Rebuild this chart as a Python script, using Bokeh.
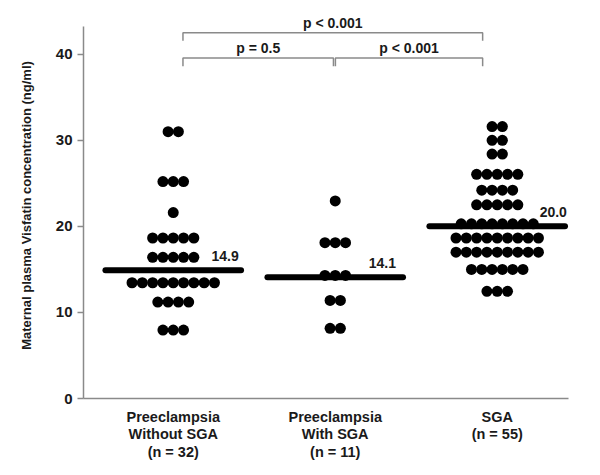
import numpy as np
from bokeh.plotting import figure
from bokeh.models import FixedTicker, Range1d
from bokeh.core.properties import value
from bokeh.embed import file_html
from bokeh.resources import INLINE

# ---------------- data ----------------
categories = ["Preeclampsia\nWithout SGA\n(n = 32)",
              "Preeclampsia\nWith SGA\n(n = 11)",
              "SGA\n(n = 55)"]
group_pos = [1, 2, 3]
means = [14.9, 14.1, 20.0]
mean_labels = ["14.9", "14.1", "20.0"]

pe_without_sga = [31.0, 31.0,
                  25.2, 25.2, 25.2,
                  21.6,
                  18.65, 18.65, 18.65, 18.65, 18.65,
                  16.4, 16.4, 16.4, 16.4, 16.4,
                  13.45, 13.45, 13.45, 13.45, 13.45, 13.45, 13.45, 13.45, 13.45,
                  11.2, 11.2, 11.2, 11.2,
                  7.95, 7.95, 7.95]
pe_with_sga = [22.95,
               18.1, 18.1, 18.1,
               14.3, 14.3, 14.3,
               11.4, 11.4,
               8.15, 8.15]
sga = [31.6, 31.6,
       30.0, 30.0,
       28.4, 28.4,
       26.05, 26.05, 26.05, 26.05, 26.05,
       24.2, 24.2, 24.2, 24.2,
       22.5, 22.5, 22.5, 22.5, 22.5,
       20.3, 20.3, 20.3, 20.3, 20.3, 20.3, 20.3, 20.3,
       18.65, 18.65, 18.65, 18.65, 18.65, 18.65, 18.65, 18.65, 18.65,
       17.0, 17.0, 17.0, 17.0, 17.0, 17.0, 17.0, 17.0, 17.0,
       15.0, 15.0, 15.0, 15.0, 15.0, 15.0,
       12.45, 12.45, 12.45]
group_values = [pe_without_sga, pe_with_sga, sga]

# comparisons: (group a, group b, text, level)
comp_a = [1, 2, 1]
comp_b = [2, 3, 3]
comp_text = ["p = 0.5", "p < 0.001", "p < 0.001"]
comp_level = [0, 0, 1]

# ---------------- layout helpers ----------------
FONT = "Liberation Sans"
DX = 0.0636          # horizontal spacing of dots (data units)
label_dx = [0.404, 0.375, 0.43]   # mean-label placement (right edge offset)
xs, ys = [], []
for pos, vals in zip(group_pos, group_values):
    uniq = sorted(set(vals))
    for v in uniq:
        n = vals.count(v)
        for i in range(n):
            xs.append(pos + (i - (n - 1) / 2) * DX)
            ys.append(v)

p = figure(width=584, height=467,
           x_range=Range1d(0.446, 3.44), y_range=Range1d(0, 44.85),
           output_backend="svg", toolbar_location=None,
           min_border_left=83, min_border_right=16,
           min_border_top=12, min_border_bottom=69)
p.outline_line_color = None
p.xgrid.grid_line_color = None
p.ygrid.grid_line_color = None
p.background_fill_color = "white"
p.border_fill_color = "white"

AX = "#8a8a8a"
# y axis
p.yaxis.ticker = FixedTicker(ticks=[0, 10, 20, 30, 40])
p.yaxis.bounds = (0, 43.2)
p.yaxis.axis_line_color = AX
p.yaxis.axis_line_width = 1.5
p.yaxis.major_tick_line_color = AX
p.yaxis.major_tick_line_width = 1.5
p.yaxis.major_tick_out = 6
p.yaxis.major_tick_in = 0
p.yaxis.minor_tick_line_color = None
p.yaxis.major_label_standoff = 5
p.yaxis.major_label_text_font = FONT
p.yaxis.major_label_text_font_style = "bold"
p.yaxis.major_label_text_font_size = "15px"
p.yaxis.major_label_text_color = "#1a1a1a"
p.yaxis.axis_label = "Maternal plasma Visfatin concentration (ng/ml)"
p.yaxis.axis_label_text_font = FONT
p.yaxis.axis_label_text_font_style = "bold"
p.yaxis.axis_label_text_font_size = "13px"
p.yaxis.axis_label_text_color = "#1a1a1a"
p.yaxis.axis_label_standoff = 19

# x axis
p.xaxis.ticker = FixedTicker(ticks=group_pos)
p.xaxis.major_label_overrides = {pos: lab for pos, lab in zip(group_pos, categories)}
p.xaxis.axis_line_color = AX
p.xaxis.axis_line_width = 1.5
p.xaxis.major_tick_line_color = None
p.xaxis.major_tick_out = 0
p.xaxis.major_tick_in = 0
p.xaxis.minor_tick_line_color = None
p.xaxis.major_label_standoff = 10
p.xaxis.major_label_text_font = FONT
p.xaxis.major_label_text_font_style = "bold"
p.xaxis.major_label_text_font_size = "14.5px"
p.xaxis.major_label_text_color = "#1a1a1a"
p.xaxis.major_label_text_line_height = 1.1

# dots
p.scatter(x=xs, y=ys, size=11, marker="circle", fill_color="black", line_color=None)

# mean lines
HALF = 0.4185
p.segment(x0=[g - HALF for g in group_pos], x1=[g + HALF for g in group_pos],
          y0=means, y1=means, line_width=6, line_color="black", line_cap="round")
p.text(x=[g + d for g, d in zip(group_pos, label_dx)], y=means, text=mean_labels,
       text_align="right", text_baseline="alphabetic", y_offset=-14,
       text_font=value(FONT), text_font_style="bold", text_font_size="14px",
       text_color="#1a1a1a")

# significance brackets
anchor = {1: 1.06, 2: 1.995, 3: 2.91}
bx, by, tx, ty = [], [], [], []
for a, b, t, lev in zip(comp_a, comp_b, comp_text, comp_level):
    y = 39.56 + lev * 2.95
    drop = 0.95
    x0 = anchor[a] + (0.006 if a == 2 else 0)
    x1 = anchor[b] - (0.006 if b == 2 else 0)
    bx.append([x0, x0, x1, x1])
    by.append([y - drop, y, y, y - drop])
    tx.append((x0 + x1) / 2)
    ty.append(y)
p.multi_line(xs=bx, ys=by, line_color=AX, line_width=1.5)
p.text(x=tx, y=ty, text=comp_text, text_align="center", text_baseline="alphabetic",
       y_offset=-10, text_font=value(FONT), text_font_style="bold",
       text_font_size="14px", text_color="#1a1a1a")

open("out.html", "w").write(file_html(p, INLINE))
